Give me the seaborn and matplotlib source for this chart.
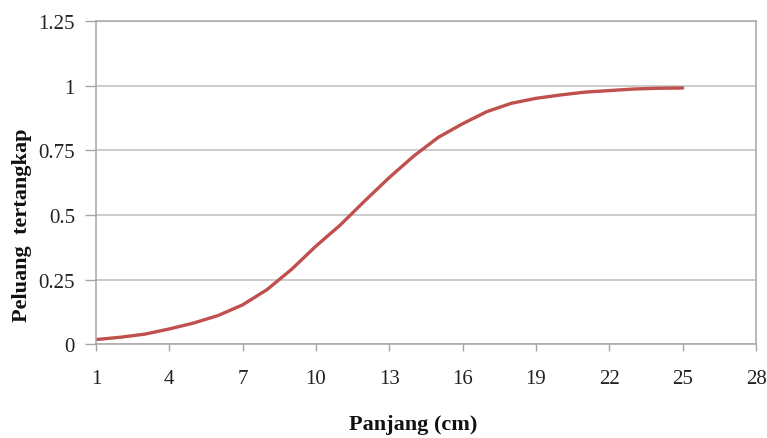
import pandas as pd
import numpy as np
import matplotlib
matplotlib.use("Agg")
import matplotlib.pyplot as plt
import seaborn as sns

# =====================================================
# DATA
# =====================================================

panjang = [1, 2, 3, 4, 5, 6, 7, 8, 9, 10, 11, 12, 13,
           14, 15, 16, 17, 18, 19, 20, 21, 22, 23, 24, 25]

peluang = [0.019, 0.028, 0.040, 0.060, 0.083, 0.112, 0.153, 0.212, 0.290,
           0.380, 0.462, 0.555, 0.645, 0.728, 0.800, 0.853, 0.900, 0.932,
           0.951, 0.964, 0.975, 0.981, 0.987, 0.990, 0.991]

x_ticks = [1, 4, 7, 10, 13, 16, 19, 22, 25, 28]
y_ticks = [0, 0.25, 0.5, 0.75, 1, 1.25]
y_tick_labels = ["0", "0.25", "0.5", "0.75", "1", "1.25"]

df = pd.DataFrame({"Panjang": panjang, "Peluang": peluang})

# =====================================================
# STYLE
# =====================================================

sns.set_theme(style="white")
plt.rcParams["font.family"] = ["Liberation Serif", "DejaVu Serif"]

# =====================================================
# PLOT
# =====================================================

fig = plt.figure(figsize=(7.67, 4.39), dpi=100)
ax = fig.add_axes([0.125, 0.213, 0.8607, 0.737])

sns.lineplot(
    data=df,
    x="Panjang",
    y="Peluang",
    color="#C0504D",
    linewidth=2.4,
    solid_joinstyle="round",
    solid_capstyle="round",
    ax=ax
)

ax.set_xlim(1, 28)
ax.set_ylim(0, 1.25)

ax.set_xticks(x_ticks)
ax.set_yticks(y_ticks)
ax.set_yticklabels(y_tick_labels)

ax.yaxis.grid(True, color="#BEBEBE", linewidth=1.1)
ax.set_axisbelow(True)

for side in ["left", "bottom", "right", "top"]:
    ax.spines[side].set_visible(True)
    ax.spines[side].set_color("#A6A6A6")
    ax.spines[side].set_linewidth(1.1)

ax.tick_params(
    axis="x", direction="out", length=5, width=1,
    color="#A6A6A6", pad=13, labelsize=15, labelcolor="#222222"
)
ax.tick_params(
    axis="y", direction="out", length=8, width=1,
    color="#A6A6A6", pad=7, labelsize=15, labelcolor="#222222"
)
ax.xaxis.set_ticks_position("bottom")
ax.yaxis.set_ticks_position("left")

ax.set_xlabel("Panjang (cm)", fontsize=16, fontweight="bold", color="#111111")
ax.set_ylabel("Peluang  tertangkap", fontsize=16, fontweight="bold", color="#111111")
ax.xaxis.set_label_coords(0.48, -0.245)
ax.yaxis.set_label_coords(-0.112, 0.372)
ax.xaxis.label.set_va("center")
ax.yaxis.label.set_va("center")

plt.savefig("out.png", dpi=100)
plt.close()
